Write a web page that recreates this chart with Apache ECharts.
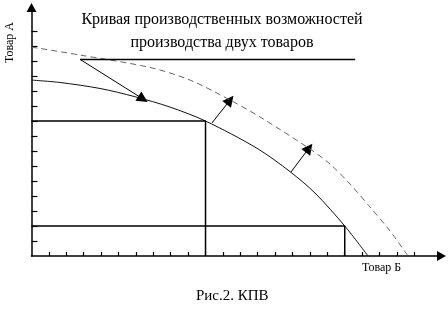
<!DOCTYPE html>
<html><head><meta charset="utf-8">
<script src="https://cdn.jsdelivr.net/npm/echarts@6/dist/echarts.min.js"></script>
<style>html,body{margin:0;padding:0;background:#fff}#c{width:448px;height:313px}</style>
</head><body><div id="c"></div>
<script>
// Data (units = axis tick steps)
const xTicks = [1,2,3,4,5,6,7,8,9,10,11,12,13,14,15,16,17,18,19,20,21,22];
const yTicks = [1,2,3,4,5,6,7,8,9,10,11,12,13,14,15];
const curvePPF = [[0,11.73],[1.64,11.57],[3.94,11.17],[5.95,10.62],[7.96,9.93],[10,9],[12.96,7.18],[14.86,5.62],[16.29,4.2],[18,2],[19.34,0]];
const curveShifted = [[0,13.93],[2.79,13.4],[6.81,12.57],[9.11,11.73],[11.41,10.4],[13.13,9.27],[16.01,7.13],[17.16,6.13],[18.3,4.8],[19.45,3.27],[20.6,1.67],[21.64,0]];
const rectA = [[0,9],[10,9],[10,0]];
const rectB = [[0,2],[18,2],[18,0]];
const topLine = [[2.79,13.11],[18.6,13.11]];
const arrows = [
  [[2.79,13.11],[6.41,10.47]],
  [[10.37,8.87],[11.41,10.4]],
  [[14.91,5.6],[15.95,7.2]]
];
const titleLines = ['Кривая производственных возможностей','производства двух товаров'];
const yName = 'Товар А';
const xName = 'Товар Б';
const caption = 'Рис.2. КПВ';

const chart = echarts.init(document.getElementById('c'), null, {renderer:'canvas'});
const font = '"Liberation Serif", "DejaVu Serif", serif';
const axisCommon = {
  type:'value', min:0, interval:1,
  splitLine:{show:false},
  axisLabel:{show:false},
  axisLine:{show:true, symbol:['none','triangle'], symbolSize:[10,9], lineStyle:{color:'#000', width:1.5}},
  axisTick:{show:true, inside:true, lineStyle:{color:'#000', width:1.2}}
};
chart.setOption({
  animation:false,
  grid:{left:31.5, right:6.5, top:7.5, bottom:57},
  xAxis: Object.assign({}, axisCommon, {max:23.56, axisTick:Object.assign({}, axisCommon.axisTick, {length:4, customValues:xTicks})}),
  yAxis: Object.assign({}, axisCommon, {max:16.57, axisTick:Object.assign({}, axisCommon.axisTick, {length:6, customValues:yTicks})}),
  series:[
    {type:'line', data:curvePPF, smooth:0.3, showSymbol:false, lineStyle:{color:'#111', width:1}},
    {type:'line', data:curveShifted, smooth:0.3, showSymbol:false, lineStyle:{color:'#666', width:1, type:[6,4]}},
    {type:'line', data:rectA, showSymbol:false, lineStyle:{color:'#000', width:1.5}},
    {type:'line', data:rectB, showSymbol:false, lineStyle:{color:'#000', width:1.5}},
    {type:'line', data:topLine, showSymbol:false, lineStyle:{color:'#000', width:1.5}},
    {type:'lines', coordinateSystem:'cartesian2d', symbol:['none','triangle'], symbolSize:[10,11],
      lineStyle:{color:'#000', width:1, opacity:1},
      data: arrows.map(a => ({coords:a}))}
  ],
  graphic:[
    {type:'text', x:222, y:12, style:{text:titleLines[0], font:'16px '+font, fill:'#000', align:'center', verticalAlign:'top'}},
    {type:'text', x:222, y:35, style:{text:titleLines[1], font:'16px '+font, fill:'#000', align:'center', verticalAlign:'top'}},
    {type:'text', x:4, y:63, rotation:Math.PI/2, style:{text:yName, font:'12px '+font, fill:'#000'}},
    {type:'text', x:362, y:262, style:{text:xName, font:'12px '+font, fill:'#000'}},
    {type:'text', x:196, y:289, style:{text:caption, font:'15px '+font, fill:'#000'}}
  ]
});
</script></body></html>
